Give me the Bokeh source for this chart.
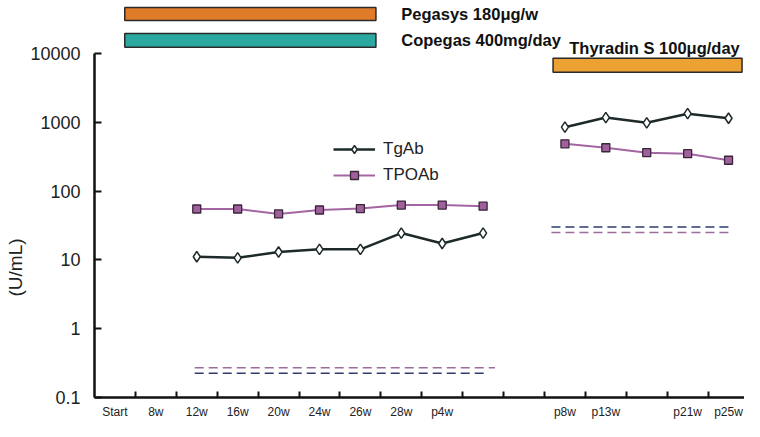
import math
from bokeh.plotting import figure
from bokeh.models import Range1d, FixedTicker, Legend, LegendItem, Label, Title
from bokeh.embed import file_html
from bokeh.resources import INLINE

# ---------------- data ----------------
categories = ["Start", "8w", "12w", "16w", "20w", "24w", "26w", "28w", "p4w",
              "", "", "p8w", "p13w", "", "p21w", "p25w"]

# category index of each measurement (NaN value = gap between periods)
meas_idx = [2, 3, 4, 5, 6, 7, 8, 9, 10, 11, 12, 13, 14, 15]
tgab = [11.1, 10.7, 13.0, 14.2, 14.2, 24.5, 17.3, 24.5, float("nan"),
        846, 1167, 980, 1330, 1140]
tpoab = [54.8, 54.8, 46.4, 53.0, 55.6, 62.5, 62.5, 60.3, float("nan"),
         485, 425, 361, 349, 280]

# reference (cut-off) dashed levels: [start, end] in category units
ref_tgab_levels = [0.225, 30]
ref_tpoab_levels = [0.27, 25]
ref_tgab_x0 = [2.45, 11.17]
ref_tgab_x1 = [9.62, 15.5]
ref_tpoab_x0 = [2.45, 11.17]
ref_tpoab_x1 = [9.79, 15.5]

# treatment periods (category units)
treat_names = ["Pegasys 180μg/w", "Copegas 400mg/day", "Thyradin S 100μg/day"]
treat_start = [0.74, 0.74, 11.21]
treat_end = [6.88, 6.88, 15.83]

y_ticks = [0.1, 1, 10, 100, 1000, 10000]
y_tick_labels = ["0.1", "1", "10", "100", "1000", "10000"]

# ---------------- styling ----------------
FONT = "Liberation Sans"
TG_COLOR = "#1e2a2a"
TPO_LINE = "#a466a2"
TPO_FILL = "#a0609c"
NAVY_DASH = "#2e3c72"
PURPLE_DASH = "#9c6c9c"
treat_colors = ["#e07b2a", "#2ba9a1", "#eba232"]
treat_ylog = [(4.478, 4.667), (4.087, 4.290), (3.725, 3.928)]

p = figure(width=744, height=421, output_backend="svg", toolbar_location=None,
           y_axis_type="log", x_range=Range1d(0, 15.89),
           y_range=Range1d(0.1, 10 ** 4.768),
           min_border_left=94, min_border_right=0, min_border_top=0,
           min_border_bottom=23)
p.outline_line_color = None
p.xgrid.visible = False
p.ygrid.visible = False
p.background_fill_color = "white"
p.border_fill_color = "white"

# x axis: labels at category centers, ticks at category boundaries
xs_lab = [i + 0.5 for i, c in enumerate(categories) if c]
p.xaxis.ticker = FixedTicker(ticks=xs_lab, minor_ticks=list(range(1, len(categories))))
p.xaxis.major_label_overrides = {i + 0.5: c for i, c in enumerate(categories) if c}
p.xaxis.major_tick_in = 0
p.xaxis.major_tick_out = 0
p.xaxis.minor_tick_in = 6
p.xaxis.minor_tick_out = 0
p.xaxis.minor_tick_line_width = 2
p.xaxis.minor_tick_line_color = "#111111"
p.xaxis.axis_line_width = 2.5
p.xaxis.axis_line_color = "#111111"
p.xaxis.major_label_text_font = FONT
p.xaxis.major_label_text_font_size = "12px"
p.xaxis.major_label_text_color = "#222222"
p.xaxis.major_label_standoff = 7

p.yaxis.ticker = FixedTicker(ticks=y_ticks, minor_ticks=[])
p.yaxis.major_label_overrides = {t: l for t, l in zip(y_ticks, y_tick_labels)}
p.yaxis.bounds = (y_ticks[0], y_ticks[-1])
p.yaxis.major_tick_in = 7
p.yaxis.major_tick_out = 0
p.yaxis.major_tick_line_width = 2
p.yaxis.major_tick_line_color = "#111111"
p.yaxis.minor_tick_in = 0
p.yaxis.minor_tick_out = 0
p.yaxis.axis_line_width = 2.5
p.yaxis.axis_line_color = "#111111"
p.yaxis.major_label_text_font = FONT
p.yaxis.major_label_text_font_size = "18px"
p.yaxis.major_label_text_color = "#222222"
p.yaxis.major_label_standoff = 14

# y axis title as a side title
ytitle = Title(text="(U/mL)", align="left", offset=101, standoff=4,
               text_font=FONT, text_font_size="19px", text_font_style="normal",
               text_color="#222222")
p.add_layout(ytitle, "left")

# treatment bars
for (lo, hi), c, s, e in zip(treat_ylog, treat_colors, treat_start, treat_end):
    p.quad(left=[s], right=[e], bottom=[10 ** lo], top=[10 ** hi],
           fill_color=c, line_color="#2a2a2a", line_width=1.5)

# treatment labels
lab_kw = dict(text_font=FONT, text_font_style="bold", text_font_size="16.5px",
              text_baseline="middle", text_color="#111111")
p.add_layout(Label(x=7.5, y=10 ** 4.565, text=treat_names[0], **lab_kw))
p.add_layout(Label(x=7.5, y=10 ** 4.188, text=treat_names[1], **lab_kw))
p.add_layout(Label(x=13.69, y=10 ** 4.072, text=treat_names[2],
                   text_align="center", **lab_kw))

# dashed reference levels
p.segment(x0=ref_tgab_x0, x1=ref_tgab_x1, y0=ref_tgab_levels, y1=ref_tgab_levels,
          line_color=NAVY_DASH, line_width=1.6, line_dash="9 5")
p.segment(x0=ref_tpoab_x0, x1=ref_tpoab_x1, y0=ref_tpoab_levels, y1=ref_tpoab_levels,
          line_color=PURPLE_DASH, line_width=1.6, line_dash="9 5")

# series
xm = [i + 0.5 for i in meas_idx]
l_tpo = p.line(xm, tpoab, line_color=TPO_LINE, line_width=2)
s_tpo = p.scatter(xm, tpoab, marker="square", size=8, fill_color=TPO_FILL,
                  line_color="#3a2438", line_width=1.3)
l_tg = p.line(xm, tgab, line_color=TG_COLOR, line_width=2.5)
s_tg = p.scatter(xm, tgab, marker="diamond", size=10.5,
                 fill_color="white", line_color=TG_COLOR, line_width=1.5)

legend = Legend(items=[LegendItem(label="TgAb", renderers=[l_tg, s_tg]),
                       LegendItem(label="TPOAb", renderers=[l_tpo, s_tpo])],
                location=(239, 212), glyph_width=42, glyph_height=20,
                label_text_font=FONT, label_text_font_size="17px",
                label_text_color="#222222", label_standoff=8, spacing=6,
                padding=0, margin=0, border_line_alpha=0,
                background_fill_alpha=0)
p.add_layout(legend)

open("out.html", "w").write(file_html(p, INLINE))
